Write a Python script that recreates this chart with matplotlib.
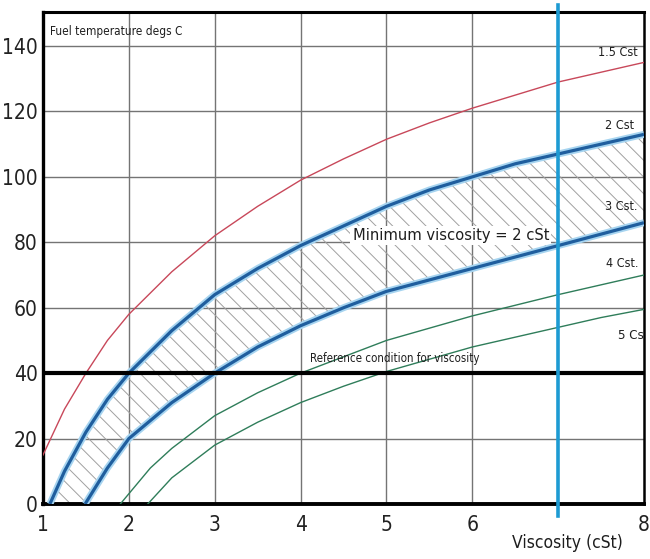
import matplotlib.pyplot as plt
import numpy as np
from matplotlib.font_manager import FontProperties, findfont

# viscosity (cSt) vs fuel temperature (degs C)
red_x = [1, 1.25, 1.5, 1.75, 2, 2.5, 3, 3.5, 4, 4.5, 5, 5.5, 6, 6.5, 7, 7.5, 8]
red_y = [15, 29, 40, 50, 58, 71, 82, 91, 99, 105.5, 111.5, 116.5, 121, 125, 129, 132, 135]

blue2_x = [1.08, 1.25, 1.5, 1.75, 2, 2.5, 3, 3.5, 4, 4.5, 5, 5.5, 6, 6.5, 7, 7.5, 8]
blue2_y = [0, 10, 22, 32, 40, 53, 64, 72, 79, 85, 91, 96, 100, 104, 107, 110, 113]

blue3_x = [1.49, 1.75, 2, 2.5, 3, 3.5, 4, 4.5, 5, 5.5, 6, 6.5, 7, 7.5, 8]
blue3_y = [0, 11, 20, 31, 40, 48, 54.5, 60, 65, 68.5, 72, 75.5, 79, 82.5, 86]

green4_x = [1.9, 2.25, 2.5, 3, 3.5, 4, 4.5, 5, 6, 7, 7.5, 8]
green4_y = [0, 11, 17, 27, 34, 40, 45, 50, 57.5, 64, 67, 70]

green5_x = [2.22, 2.5, 3, 3.5, 4, 4.5, 5, 6, 7, 7.5, 8]
green5_y = [0, 8, 18, 25, 31, 36, 40.5, 48, 54, 57, 59.5]

x_ticks = [1, 2, 3, 4, 5, 6, 8]
y_ticks = [0, 20, 40, 60, 80, 100, 120, 140]
ref_temp = 40
min_visc_line = 7

# narrow font if one is installed, else plain Liberation Sans
stretch = "normal"
family = ["Liberation Sans", "DejaVu Sans"]
if "Condensed" in findfont(FontProperties(family="DejaVu Sans", stretch="condensed"),
                           fallback_to_default=False):
    family = ["DejaVu Sans"]
    stretch = "condensed"
plt.rcParams["font.family"] = family
plt.rcParams["font.stretch"] = stretch
plt.rcParams["hatch.linewidth"] = 0.7

fig = plt.figure(figsize=(6.5, 5.59), dpi=100)
ax = fig.add_axes([0.0662, 0.0984, 0.9246, 0.8801])
ax.set_xlim(1, 8)
ax.set_ylim(0, 150.4)

grid_c = "#747474"
for xv in x_ticks[1:-1]:
    ax.axvline(xv, color=grid_c, lw=1.0, zorder=1)
for yv in y_ticks[1:]:
    if yv != ref_temp:
        ax.axhline(yv, color=grid_c, lw=1.0, zorder=1)

# hatched band between the 2 cSt and 3 cSt lines
band_x = np.r_[blue2_x, blue3_x[::-1]]
band_y = np.r_[blue2_y, blue3_y[::-1]]
ax.fill(band_x, band_y, facecolor="none", edgecolor="#a0a0a0", hatch="\\\\", lw=0, zorder=2)

ax.plot(red_x, red_y, color="#c8485a", lw=1.0, zorder=3)
ax.plot(green4_x, green4_y, color="#2f7d5a", lw=1.0, zorder=3)
ax.plot(green5_x, green5_y, color="#2f7d5a", lw=1.0, zorder=3)
for bx, by in [(blue2_x, blue2_y), (blue3_x, blue3_y)]:
    ax.plot(bx, by, color="#a6d4f0", lw=5.0, solid_capstyle="butt", zorder=4)
    ax.plot(bx, by, color="#1f5e9e", lw=2.3, solid_capstyle="butt", zorder=4)

ax.axhline(ref_temp, color="black", lw=3.0, zorder=5)
ax.axvline(min_visc_line, ymin=-0.025, ymax=1.015, color="#1d9bd3", lw=2.6,
           clip_on=False, zorder=6)

ax.set_xticks(x_ticks)
ax.set_yticks(y_ticks)
ax.tick_params(length=0, labelsize=15, colors="#222222")
ax.tick_params(axis="x", pad=8)
ax.tick_params(axis="y", pad=4)
for side, w in [("left", 2.4), ("bottom", 2.8), ("top", 2.2), ("right", 1.8)]:
    ax.spines[side].set_linewidth(w)
    ax.spines[side].set_color("black")

txt = dict(color="#1e1e1e", zorder=7)
ax.text(1.08, 144.4, "Fuel temperature degs C", fontsize=8.5, ha="left", va="center", **txt)
ax.text(7.93, 138, "1.5 Cst", fontsize=9, ha="right", va="center", **txt)
ax.text(7.88, 115.7, "2 Cst", fontsize=9, ha="right", va="center", **txt)
ax.text(7.92, 91, "3 Cst.", fontsize=9, ha="right", va="center", **txt)
ax.text(7.93, 73.6, "4 Cst.", fontsize=9, ha="right", va="center", **txt)
ax.text(7.7, 51.6, "5 Cst", fontsize=9.5, ha="left", va="center", clip_on=True, **txt)
ax.text(4.11, 44.5, "Reference condition for viscosity", fontsize=8.3,
        ha="left", va="center", **txt)
ax.text(5.75, 82, "Minimum viscosity = 2 cSt", fontsize=11.8, ha="center", va="center",
        color="#1e1e1e", zorder=3.5,
        bbox=dict(facecolor="white", edgecolor="none", pad=1.5))
ax.text(7.11, -12, "Viscosity (cSt)", fontsize=12.5, ha="center", va="center",
        clip_on=False, **txt)

fig.savefig("out.png", dpi=100)
plt.close(fig)
